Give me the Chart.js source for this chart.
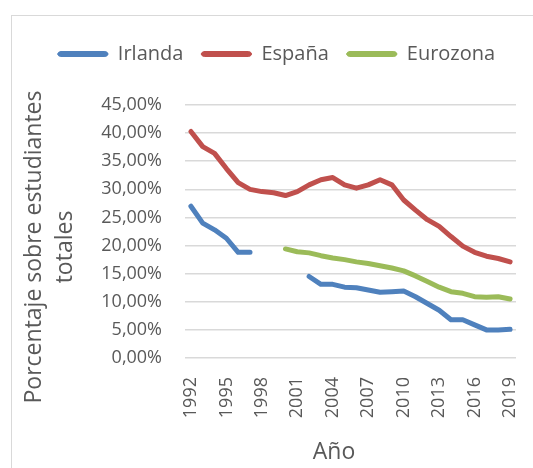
<!DOCTYPE html>
<html>
<head>
<meta charset="utf-8">
<script src="https://cdn.jsdelivr.net/npm/chart.js@4.4.1/dist/chart.umd.min.js"></script>
<style>
  html, body { margin: 0; padding: 0; background: #fff; overflow: hidden; }
  #wrap { position: relative; width: 533px; height: 468px; }
  #frame { position: absolute; left: 11px; top: 15px; width: 560px; height: 500px; border: 1px solid #d9d9d9; }
  canvas { position: absolute; left: 0; top: 0; }
</style>
</head>
<body>
<div id="wrap">
  <div id="frame"></div>
  <canvas id="chart" width="533" height="468"></canvas>
</div>
<script>
// data (percent of all students)
const years = ['1992', '1993', '1994', '1995', '1996', '1997', '1998', '1999', '2000', '2001',
               '2002', '2003', '2004', '2005', '2006', '2007', '2008', '2009', '2010', '2011',
               '2012', '2013', '2014', '2015', '2016', '2017', '2018', '2019'];
const irlanda = [27.0, 24.0, 22.8, 21.3, 18.8, 18.8, null, null, null, null,
                 14.5, 13.1, 13.1, 12.6, 12.5, 12.1, 11.7, 11.8, 11.9, 10.9,
                 9.7, 8.5, 6.8, 6.8, 5.9, 5.0, 5.0, 5.1];
const espana = [40.3, 37.6, 36.4, 33.7, 31.2, 30.0, 29.6, 29.4, 28.9, 29.6,
                30.8, 31.7, 32.1, 30.8, 30.2, 30.8, 31.7, 30.8, 28.1, 26.3,
                24.6, 23.4, 21.6, 19.9, 18.8, 18.1, 17.7, 17.1];
const eurozona = [null, null, null, null, null, null, null, null, 19.4, 18.9,
                  18.7, 18.2, 17.8, 17.5, 17.1, 16.8, 16.4, 16.0, 15.5, 14.6,
                  13.6, 12.6, 11.8, 11.5, 10.9, 10.8, 10.9, 10.5];
const yTitle = ['Porcentaje sobre estudiantes', 'totales'];
const xTitle = 'Año';

const textColor = '#595959';
const gridColor = '#d9d9d9';

function line(label, values, color) {
    return {
        label: label,
        data: values,
        borderColor: color,
        backgroundColor: color,
        borderWidth: 5,
        borderCapStyle: 'round',
        borderJoinStyle: 'round',
        pointRadius: 0,
        tension: 0,
        spanGaps: false
    };
}

// legend height fixed and legend nudged right, axis titles drawn like the original
const layoutTweaks = {
    id: 'layoutTweaks',
    beforeLayout(chart) {
        const legend = chart.legend;
        if (legend && !legend._patched) {
            const fit = legend.fit;
            legend.fit = function () {
                fit.call(this);
                this.height = 79;
            };
            legend._patched = true;
        }
    },
    afterLayout(chart) {
        chart.legend.left += 13;
        chart.legend.right += 13;
    },
    afterDraw(chart) {
        const ctx = chart.ctx;
        ctx.save();
        ctx.fillStyle = textColor;
        ctx.font = '23px "Open Sans"';
        ctx.textAlign = 'center';
        ctx.textBaseline = 'middle';
        ctx.save();
        ctx.translate(34, 247);
        ctx.rotate(-Math.PI / 2);
        yTitle.forEach((t, i) => ctx.fillText(t, 0, i * 31));
        ctx.restore();
        ctx.fillText(xTitle, 334, 452);
        ctx.restore();
    }
};

new Chart(document.getElementById('chart'), {
    type: 'line',
    data: {
        labels: years,
        datasets: [
            line('Irlanda', irlanda, '#4f81bd'),
            line('España', espana, '#c0504d'),
            line('Eurozona', eurozona, '#9bbb59')
        ]
    },
    options: {
        responsive: false,
        animation: false,
        layout: { padding: { left: 11, right: 17, top: 26, bottom: 0 } },
        scales: {
            x: {
                offset: true,
                grid: { display: false, drawTicks: false },
                border: { display: false },
                afterFit: scale => {
                    scale.height = 110;
                    scale.paddingLeft = 0;
                    scale.paddingRight = 0;
                },
                ticks: {
                    autoSkip: false,
                    minRotation: 90,
                    maxRotation: 90,
                    padding: 19,
                    color: textColor,
                    font: { family: 'Open Sans', size: 18 },
                    callback: (value, index) => index % 3 === 0 ? years[index] : ''
                }
            },
            y: {
                min: 0,
                max: 45,
                grid: { color: gridColor, lineWidth: 1.5, drawTicks: false },
                border: { display: false },
                afterFit: scale => { scale.width = 174; },
                ticks: {
                    stepSize: 5,
                    padding: 23,
                    color: textColor,
                    font: { family: 'Open Sans', size: 18 },
                    callback: value => value.toFixed(2).replace('.', ',') + '%'
                }
            }
        },
        plugins: {
            tooltip: { enabled: false },
            legend: {
                position: 'top',
                labels: {
                    boxWidth: 50,
                    boxHeight: 5,
                    useBorderRadius: true,
                    borderRadius: 3,
                    padding: 18,
                    color: textColor,
                    font: { family: 'Open Sans', size: 20 },
                    generateLabels: chart => Chart.defaults.plugins.legend.labels.generateLabels(chart)
                        .map(item => Object.assign(item, { lineWidth: 1 }))
                }
            }
        }
    },
    plugins: [layoutTweaks]
});
</script>
</body>
</html>
